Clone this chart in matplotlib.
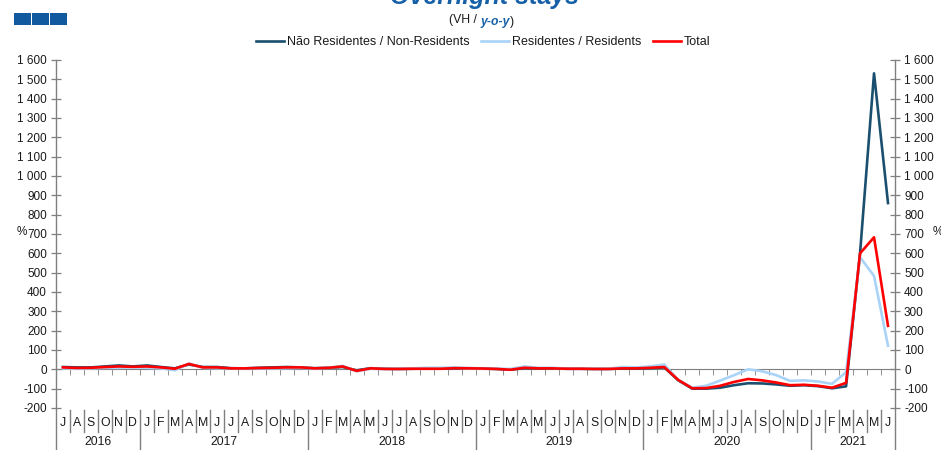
import matplotlib
matplotlib.use("Agg")
import matplotlib.pyplot as plt
from matplotlib.patches import Rectangle
from matplotlib.ticker import FuncFormatter, MultipleLocator
import numpy as np

plt.rcParams['font.family'] = ['Liberation Sans', 'DejaVu Sans']

# Monthly y-o-y change (%), Jul 2016 .. Jun 2021
months = ["J", "A", "S", "O", "N", "D"] + ["J", "F", "M", "A", "M", "J", "J", "A", "S", "O", "N", "D"] * 4 + ["J", "F", "M", "A", "M", "J"]
years = ["2016", "2017", "2018", "2019", "2020", "2021"]
year_len = [6, 12, 12, 12, 12, 6]

non_residents = [
    12, 10, 10, 15, 20, 15,
    20, 12, 5, 25, 12, 12, 6, 5, 8, 10, 12, 10,
    6, 8, 12, -5, 6, 3, 2, 3, 4, 4, 6, 6,
    5, 2, -2, 6, 5, 5, 3, 3, 2, 2, 4, 5,
    6, 10, -57, -100, -100, -95, -82, -72, -73, -78, -85, -82,
    -87, -98, -88, 600, 1531, 860,
]
residents = [
    5, 3, 5, 8, 8, 10,
    8, 5, -5, 30, 8, 6, 5, 5, 5, 5, 6, 8,
    4, 8, 18, -10, 3, 2, 3, 5, 8, 8, 10, 4,
    3, 3, 2, 15, 8, 8, 3, 3, 3, 3, 12, 10,
    15, 25, -55, -95, -85, -58, -30, 0, -10, -30, -60, -57,
    -63, -75, -15, 580, 483, 122,
]
total = [
    10, 7, 8, 12, 15, 13,
    15, 10, 3, 28, 10, 10, 5, 5, 7, 8, 10, 10,
    5, 8, 15, -8, 5, 2, 2, 3, 3, 3, 6, 5,
    4, 2, -2, 8, 5, 5, 3, 3, 2, 2, 5, 5,
    8, 12, -55, -98, -97, -85, -65, -50, -57, -68, -82, -80,
    -85, -95, -70, 600, 683, 225,
]

DARK = "#1b4f6f"
LIGHT = "#a9d3f7"
RED = "#ff0000"
BLUE = "#1660a8"
GRAY = "#7f7f7f"
TXT = "#1a1a1a"

W, H = 941, 450
fig = plt.figure(figsize=(W / 100, H / 100), dpi=100)
ax = fig.add_axes([56 / W, 1 - 408 / H, (895 - 56) / W, 348 / H])

x = np.arange(len(months))
ax.plot(x, non_residents, color=DARK, lw=1.9, label="Não Residentes / Non-Residents", zorder=3)
ax.plot(x, residents, color=LIGHT, lw=1.9, label="Residentes / Residents", zorder=3)
ax.plot(x, total, color=RED, lw=1.9, label="Total", zorder=4)

ax.set_xlim(-0.5, len(months) - 0.5)
ax.set_ylim(-200, 1600)

fmt = FuncFormatter(lambda v, p: f"{int(v):,}".replace(",", " "))
ax.yaxis.set_major_locator(MultipleLocator(100))
ax.yaxis.set_major_formatter(fmt)
ax.tick_params(axis="y", direction="inout", length=7, width=0.9, color=GRAY,
               labelsize=8.5, labelcolor=TXT, left=True, right=True,
               labelleft=True, labelright=True, pad=3)

# x axis line at zero with month boundary ticks
for s in ["top", "left", "right"]:
    ax.spines[s].set_visible(False)
ax.spines["bottom"].set_position(("data", 0))
ax.spines["bottom"].set_color(GRAY)
ax.set_xticks([])
ax.set_xticks(np.arange(0.5, len(months) - 1, 1), minor=True)
ax.tick_params(axis="x", which="minor", direction="out", length=4, color=GRAY, labelbottom=False)
ax.tick_params(axis="x", which="major", length=0)

# vertical axes extended down through the category labels
yb_month = -24 / 348
yb_year = -42 / 348
for xa in (0, 1):
    ax.plot([xa, xa], [yb_year, 1], transform=ax.transAxes, color=GRAY, lw=1.0, clip_on=False)

trans = ax.get_xaxis_transform()
for i, m in enumerate(months):
    ax.text(i, -15 / 348, m, transform=trans, ha="center", va="center", fontsize=8.8, color=TXT)
starts = np.cumsum([0] + year_len[:-1])
year_bounds = set(int(s) for s in starts)
for b in range(1, len(months)):
    lo = yb_year if b in year_bounds else yb_month
    ax.plot([b - 0.5, b - 0.5], [lo, -2 / 348], transform=trans, color=GRAY, lw=1.0, clip_on=False)
for yr, s, n in zip(years, starts, year_len):
    ax.text(s + n / 2 - 0.5, -34 / 348, yr, transform=trans, ha="center", va="center", fontsize=8.8, color=TXT)

# "%" unit marks at 700
fig.text(22 / W, 1 - 232 / H, "%", ha="center", va="center", fontsize=8.5, color=TXT)
fig.text(938 / W, 1 - 232 / H, "%", ha="center", va="center", fontsize=8.5, color=TXT)

# legend
fig.legend(loc="center", bbox_to_anchor=(483 / W, 1 - 42 / H), ncol=3, frameon=False,
           fontsize=9, handlelength=2.3, handletextpad=0.2, columnspacing=0.9,
           labelcolor=TXT)

# title (cut at the top) and subtitle
fig.text(485 / W, 1 - 4 / H, "Overnight stays", ha="center", va="baseline",
         fontsize=18, fontweight="bold", fontstyle="italic", color=BLUE)
t1 = fig.text(449 / W, 1 - 20 / H, "(VH / ", ha="left", va="center", fontsize=8.8, color=TXT)
t2 = fig.text(0, 0, "y-o-y", fontsize=8.8, fontweight="bold", fontstyle="italic", color=BLUE)
t3 = fig.text(0, 0, ")", fontsize=8.8, color=TXT)
fig.canvas.draw()
r = fig.canvas.get_renderer()
bb = t1.get_window_extent(r)
t2.set_position((bb.x1 / W, bb.y0 / H + 0.002))
bb2 = t2.get_window_extent(r)
t3.set_position((bb2.x1 / W, bb.y0 / H + 0.002))

# logo squares
for lx in (14, 32, 50):
    fig.add_artist(Rectangle((lx / W, 1 - 25 / H), 17 / W, 12 / H, transform=fig.transFigure,
                             color="#125aa0", lw=0))

fig.savefig("out.png", dpi=100)
